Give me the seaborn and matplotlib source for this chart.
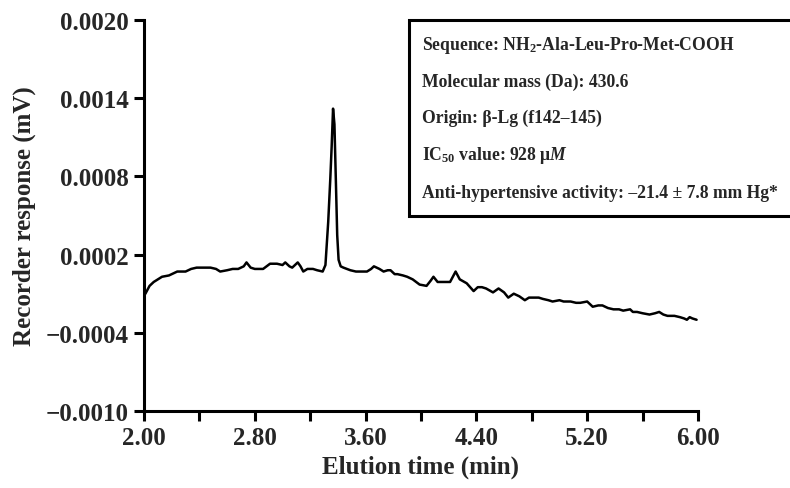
import matplotlib
matplotlib.use("Agg")
import matplotlib.pyplot as plt
from matplotlib.patches import Rectangle
from matplotlib.ticker import FixedLocator, MultipleLocator
import pandas as pd
import seaborn as sns

# Chromatogram trace: elution time (min) vs recorder response (mV)
elution_time = [
    2.00, 2.01, 2.04, 2.07, 2.10, 2.13, 2.18, 2.24, 2.30, 2.34, 2.38, 2.44, 2.48,
    2.52, 2.55, 2.60, 2.64, 2.68, 2.72, 2.74, 2.77, 2.80, 2.86, 2.91, 2.96, 3.00,
    3.02, 3.05, 3.07, 3.11, 3.13, 3.15, 3.18, 3.22, 3.25, 3.29, 3.31, 3.33, 3.345,
    3.355, 3.365, 3.375, 3.385, 3.395, 3.405, 3.42, 3.44, 3.49, 3.53, 3.56, 3.61,
    3.64, 3.66, 3.70, 3.73, 3.76, 3.78, 3.81, 3.83, 3.87, 3.90, 3.94, 3.99, 4.04,
    4.07, 4.09, 4.12, 4.16, 4.21, 4.23, 4.25, 4.28, 4.33, 4.38, 4.41, 4.44, 4.47,
    4.52, 4.56, 4.60, 4.63, 4.67, 4.71, 4.75, 4.78, 4.81, 4.85, 4.88, 4.92, 4.95,
    5.00, 5.03, 5.08, 5.12, 5.15, 5.20, 5.24, 5.28, 5.31, 5.35, 5.39, 5.43, 5.46,
    5.51, 5.53, 5.56, 5.60, 5.65, 5.69, 5.72, 5.75, 5.78, 5.83, 5.87, 5.90, 5.92,
    5.94, 5.96, 5.99,
]
response = [
    -0.00011, -0.00010, -0.00004, -0.00001, 0.00001, 0.00003, 0.00004, 0.00007,
    0.00007, 0.00009, 0.00010, 0.00010, 0.00010, 0.00009, 0.00007, 0.00008,
    0.00009, 0.00009, 0.00011, 0.00014, 0.00010, 0.00009, 0.00009, 0.00013,
    0.00013, 0.00012, 0.00014, 0.00011, 0.00010, 0.00014, 0.00011, 0.00007,
    0.00009, 0.00009, 0.00008, 0.00007, 0.00012, 0.00045, 0.00078, 0.00103,
    0.00132, 0.00120, 0.00078, 0.00035, 0.00016, 0.00011, 0.00010, 0.00008,
    0.00007, 0.00007, 0.00007, 0.00009, 0.00011, 0.00009, 0.00007, 0.00008,
    0.00008, 0.00005, 0.00005, 0.00004, 0.00003, 0.00001, -0.00003, -0.00004,
    0.00000, 0.00003, -0.00001, -0.00001, -0.00001, 0.00003, 0.00007, 0.00001,
    -0.00002, -0.00008, -0.00005, -0.00005, -0.00006, -0.00009, -0.00006,
    -0.00009, -0.00013, -0.00010, -0.00012, -0.00015, -0.00013, -0.00013,
    -0.00013, -0.00014, -0.00015, -0.00016, -0.00015, -0.00016, -0.00016,
    -0.00017, -0.00017, -0.00016, -0.00020, -0.00019, -0.00019, -0.00021,
    -0.00022, -0.00022, -0.00023, -0.00022, -0.00024, -0.00024, -0.00025,
    -0.00026, -0.00025, -0.00024, -0.00026, -0.00027, -0.00027, -0.00028,
    -0.00029, -0.00030, -0.00028, -0.00029, -0.00030,
]

x_ticks = [2.00, 2.80, 3.60, 4.40, 5.20, 6.00]
x_tick_labels = ["2.00", "2.80", "3.60", "4.40", "5.20", "6.00"]
y_ticks = [-0.0010, -0.0004, 0.0002, 0.0008, 0.0014, 0.0020]
y_tick_labels = ["\u22120.0010", "\u22120.0004", "0.0002", "0.0008", "0.0014", "0.0020"]

info_lines = [
    r"Sequence: NH$_\mathbf{2}$-Ala-Leu-Pro-Met-COOH",
    "Molecular mass (Da): 430.6",
    "Origin: \u03b2-Lg (f142\u2013145)",
    "IC$_\\mathbf{50}$ value: 928 \u03bc$\\mathit{M}$",
    "Anti-hypertensive activity: \u201321.4 \u00b1 7.8 mm Hg*",
]

sns.set_theme(style="ticks")
plt.rcParams["font.family"] = ["Liberation Serif", "DejaVu Serif"]
plt.rcParams["font.weight"] = "bold"
plt.rcParams["mathtext.fontset"] = "custom"
plt.rcParams["mathtext.rm"] = "Liberation Serif:bold"
plt.rcParams["mathtext.bf"] = "Liberation Serif:bold"
plt.rcParams["mathtext.it"] = "Liberation Serif:italic:bold"

df = pd.DataFrame({"time": elution_time, "resp": response})

fig = plt.figure(figsize=(7.9, 4.89), dpi=100)
ax = fig.add_axes([0.1823, 0.1575, 0.7012, 0.7995])

sns.lineplot(data=df, x="time", y="resp", ax=ax, color="black", linewidth=1.8,
             estimator=None, sort=False)

ax.set_xlim(2.0, 6.0)
ax.set_ylim(-0.0010, 0.0020)
ax.xaxis.set_major_locator(FixedLocator(x_ticks))
ax.xaxis.set_minor_locator(MultipleLocator(0.4))
ax.set_xticklabels(x_tick_labels)
ax.yaxis.set_major_locator(FixedLocator(y_ticks))
ax.set_yticklabels(y_tick_labels)

for side in ("top", "right"):
    ax.spines[side].set_visible(False)
for side in ("left", "bottom"):
    ax.spines[side].set_linewidth(2.2)
    ax.spines[side].set_color("black")

ax.tick_params(axis="both", which="both", direction="out", length=7, width=2.2,
               color="black", labelsize=18, pad=4)
ax.tick_params(axis="y", which="minor", left=False)
for lbl in ax.get_xticklabels() + ax.get_yticklabels():
    lbl.set_fontweight("bold")

ax.set_xlabel("Elution time (min)", fontsize=18, fontweight="bold", labelpad=4)
ax.set_ylabel("Recorder response (mV)", fontsize=18, fontweight="bold", labelpad=7)

# Peptide information panel, running off the right edge
box = Rectangle((409 / 790, 1 - 217 / 489), 0.6, (217 - 21) / 489,
                transform=fig.transFigure, fill=True, facecolor="white",
                edgecolor="black", linewidth=2.2, zorder=5)
fig.patches.append(box)
line_y = [45, 82, 118, 155, 193]
for txt, yp in zip(info_lines, line_y):
    fig.text(422 / 790, 1 - yp / 489, txt, fontsize=12.7, fontweight="bold",
             ha="left", va="center", zorder=6)

fig.savefig("out.png", dpi=100)
